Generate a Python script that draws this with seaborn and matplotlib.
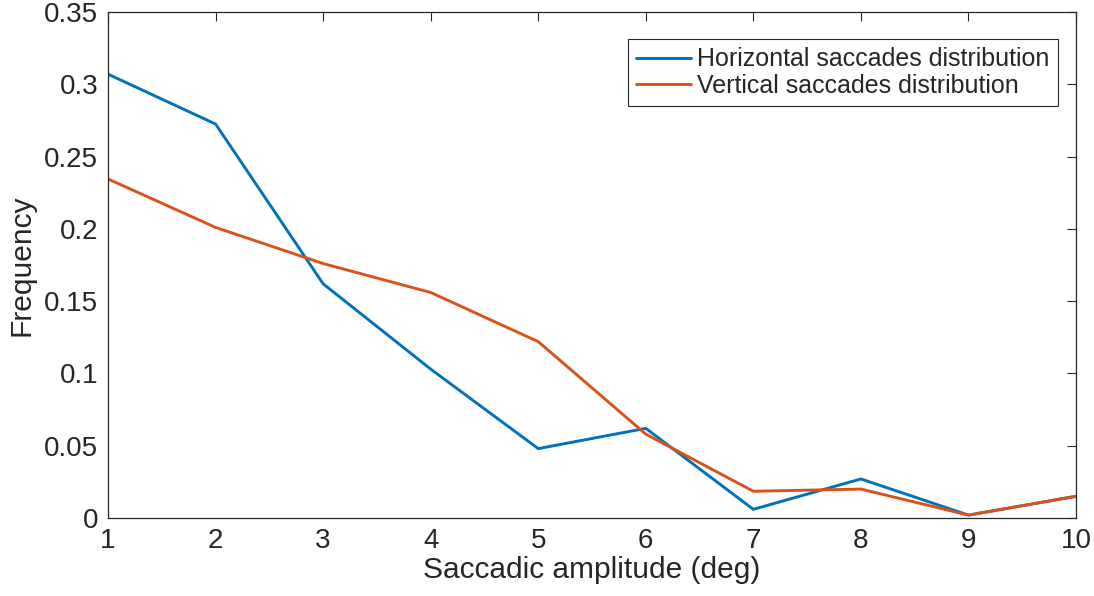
import matplotlib
matplotlib.use('Agg')
import matplotlib.pyplot as plt
import seaborn as sns
import pandas as pd
import numpy as np

# saccadic amplitude bins (deg)
amplitude = [1, 2, 3, 4, 5, 6, 7, 8, 9, 10]
# frequency of each bin
horizontal = [0.307, 0.2725, 0.162, 0.103, 0.048, 0.062, 0.006, 0.027, 0.002, 0.015]
vertical = [0.2345, 0.201, 0.176, 0.156, 0.122, 0.058, 0.0185, 0.020, 0.002, 0.015]
series_names = ['Horizontal saccades distribution', 'Vertical saccades distribution']
y_ticks = [0, 0.05, 0.1, 0.15, 0.2, 0.25, 0.3, 0.35]
y_tick_labels = ['0', '0.05', '0.1', '0.15', '0.2', '0.25', '0.3', '0.35']

df = pd.concat([
    pd.DataFrame({'amp': amplitude, 'freq': horizontal, 'series': series_names[0]}),
    pd.DataFrame({'amp': amplitude, 'freq': vertical, 'series': series_names[1]}),
])

sns.set_style('white')
plt.rcParams['font.family'] = ['Liberation Sans', 'DejaVu Sans']

fig = plt.figure(figsize=(10.94, 5.96), dpi=100)
ax = fig.add_axes([108 / 1094, 1 - 518 / 596, (1076 - 108) / 1094, (518 - 12) / 596])

sns.lineplot(data=df, x='amp', y='freq', hue='series',
             palette=['#0072BD', '#D95319'], linewidth=2.1, ax=ax)

ax.set_xlim(1, 10)
ax.set_ylim(0, 0.35)
ax.set_xticks(amplitude)
ax.set_yticks(y_ticks)
ax.set_yticklabels(y_tick_labels)
ax.tick_params(direction='in', top=True, right=True, length=6.5, width=0.8,
               labelsize=20, colors='#262626', pad=7)
for sp in ax.spines.values():
    sp.set_color('#262626')
    sp.set_linewidth(0.9)

ax.set_xlabel('Saccadic amplitude (deg)', fontsize=21.5, color='#262626', labelpad=2)
ax.set_ylabel('Frequency', fontsize=21.5, color='#262626', labelpad=6)

leg = ax.legend(loc='upper right', fontsize=18, frameon=True, fancybox=False,
                handlelength=2.2, handletextpad=0.25, borderpad=0.33,
                labelspacing=0.1, borderaxespad=0,
                bbox_to_anchor=((1058 - 108) / 968, (518 - 39) / 506))
leg.get_frame().set_edgecolor('#262626')
leg.get_frame().set_linewidth(0.8)
leg.get_frame().set_alpha(1)
leg.set_title(None)

plt.savefig('out.png', dpi=100)
plt.close()
